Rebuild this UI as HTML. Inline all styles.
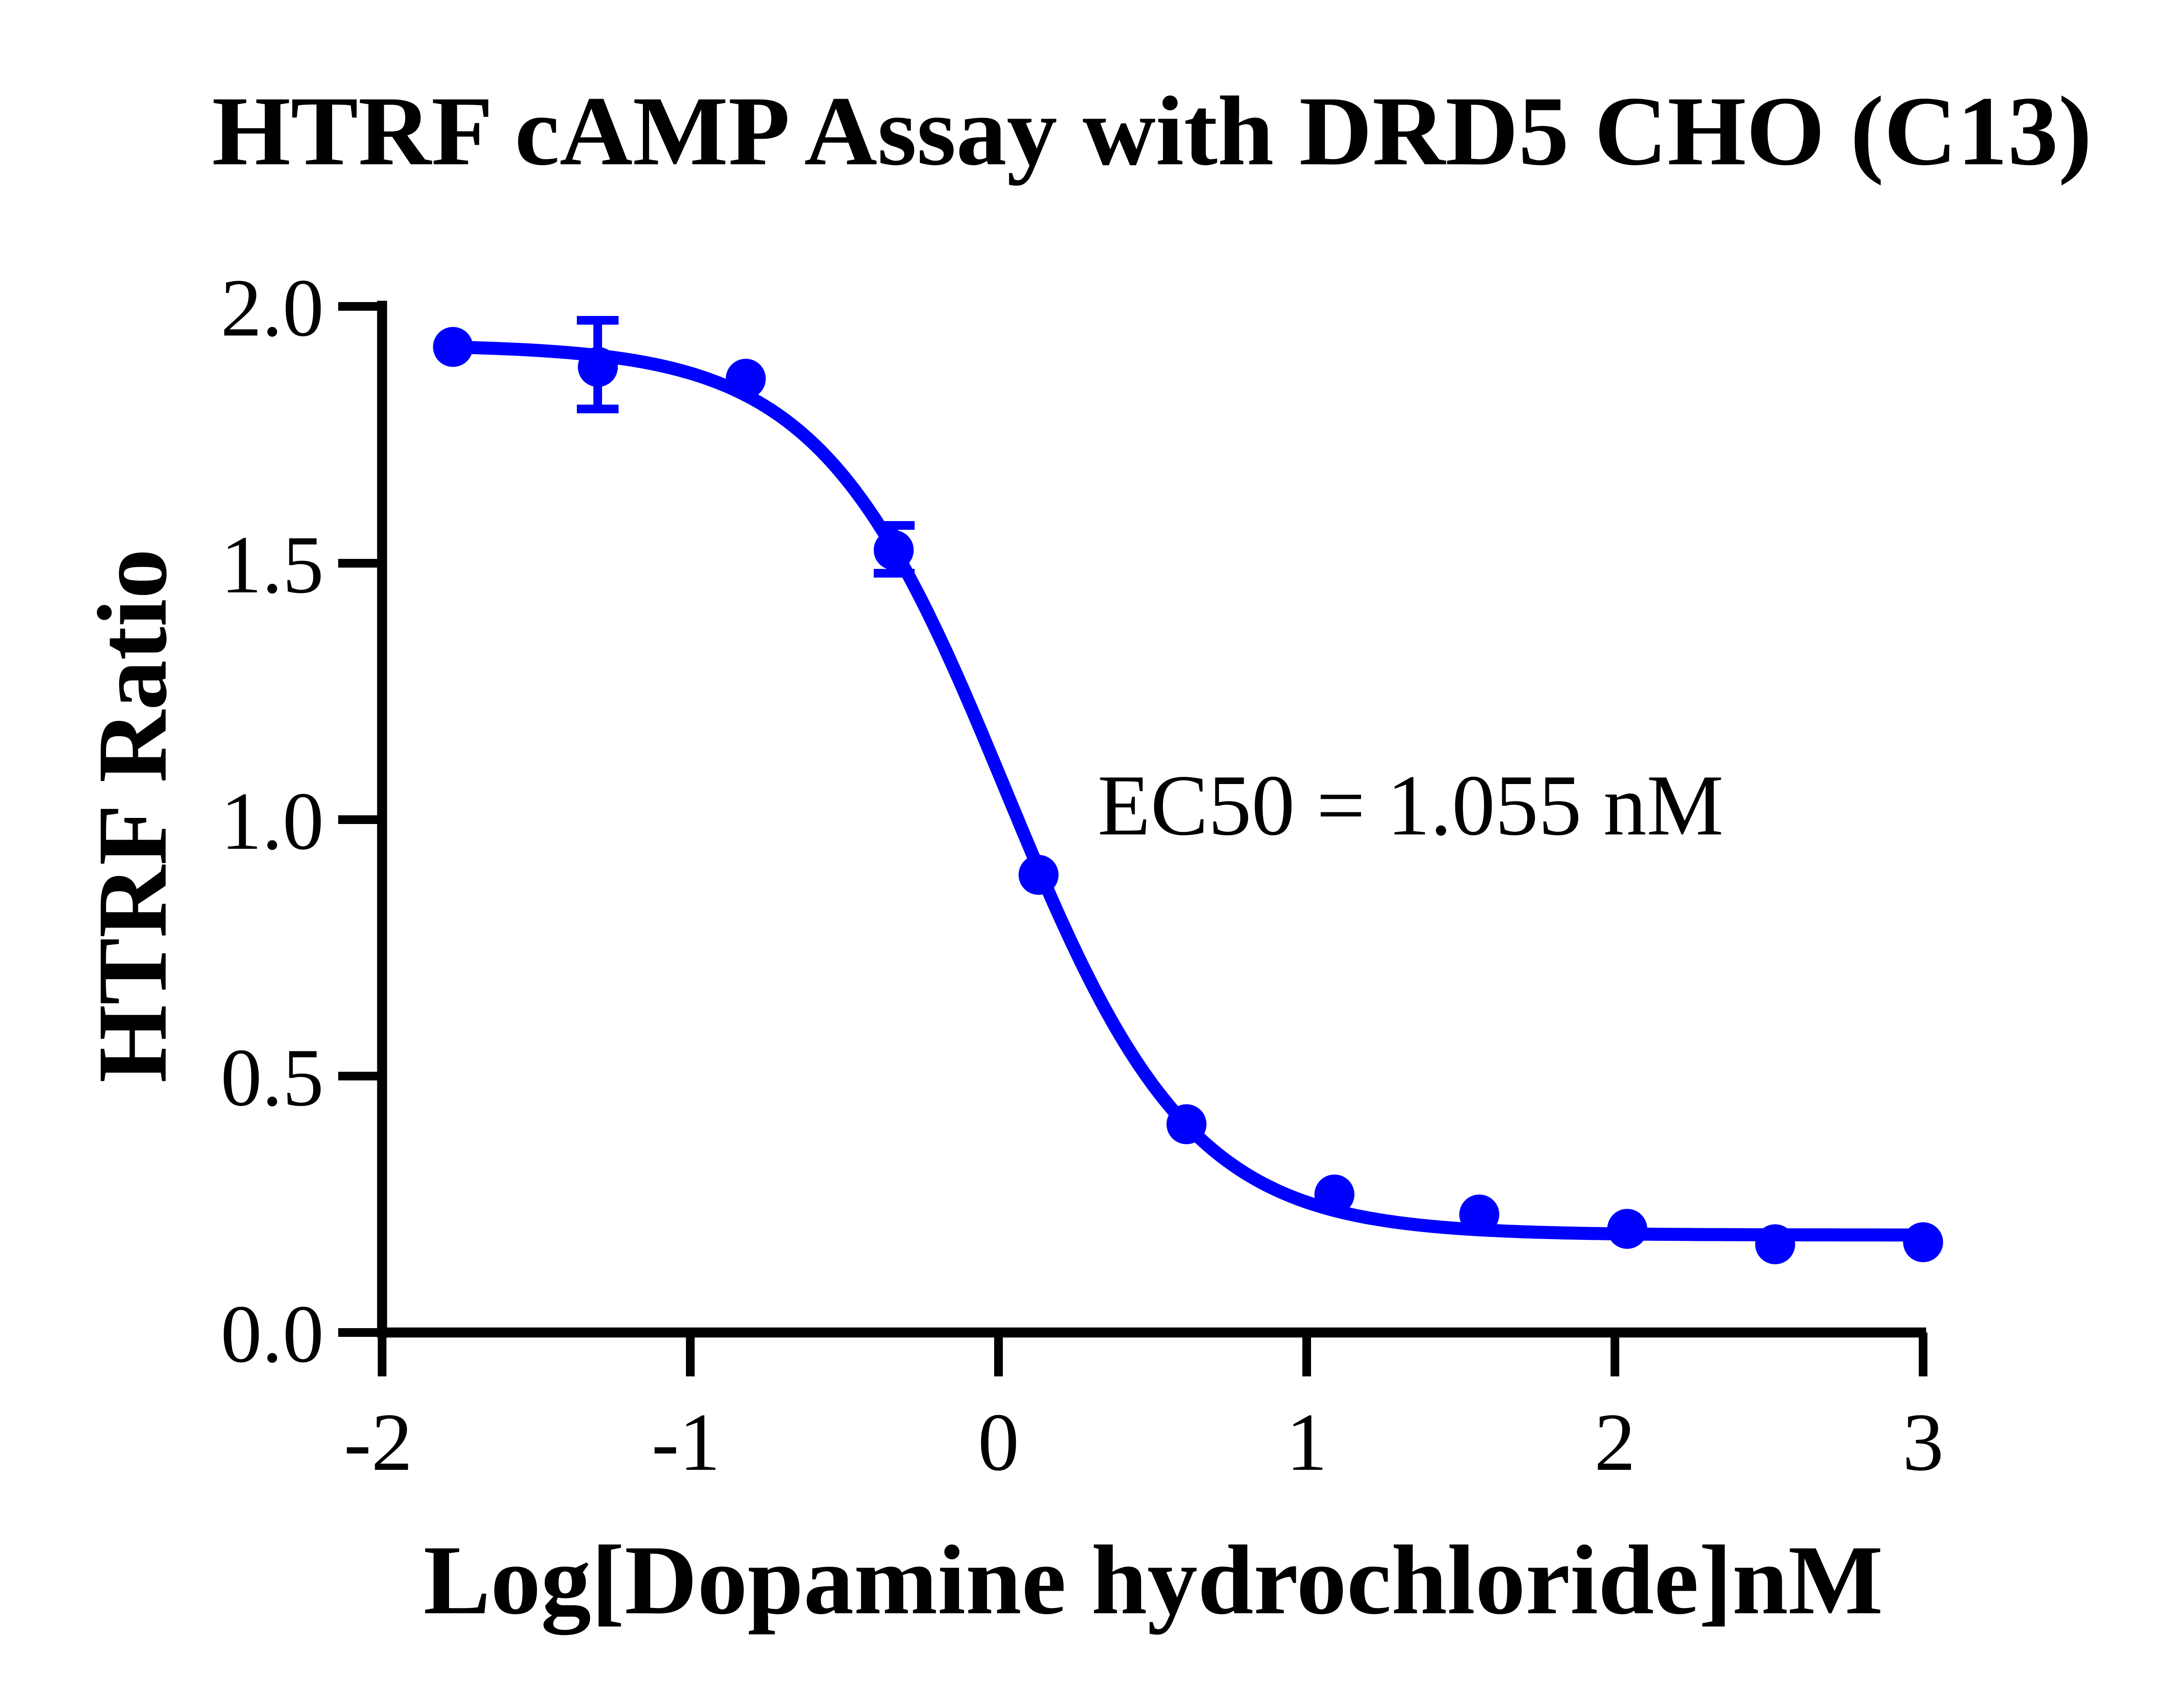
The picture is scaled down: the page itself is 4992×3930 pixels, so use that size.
<!DOCTYPE html>
<html><head><meta charset="utf-8"><style>html,body{margin:0;padding:0;background:#fff}svg{display:block}</style></head>
<body>
<svg id="s" width="4992" height="3930" viewBox="0 0 4992 3930" xmlns="http://www.w3.org/2000/svg" font-family="Liberation Serif, serif">
<rect width="4992" height="3930" fill="#fff"/>
<text x="2650" y="378" font-size="228" font-weight="bold" text-anchor="middle" textLength="4325" lengthAdjust="spacingAndGlyphs">HTRF cAMP Assay with DRD5 CHO (C13)</text>
<g stroke="#000" stroke-width="23" fill="none">
<line x1="879" y1="692" x2="879" y2="3078"/>
<line x1="868" y1="3066" x2="4431" y2="3066"/>
<g stroke-width="20">
<line x1="778" y1="705" x2="879" y2="705"/>
<line x1="778" y1="1296" x2="879" y2="1296"/>
<line x1="778" y1="1886" x2="879" y2="1886"/>
<line x1="778" y1="2476" x2="879" y2="2476"/>
<line x1="778" y1="3066" x2="879" y2="3066"/>
<line x1="879" y1="3066" x2="879" y2="3167"/>
<line x1="1588" y1="3066" x2="1588" y2="3167"/>
<line x1="2297" y1="3066" x2="2297" y2="3167"/>
<line x1="3006" y1="3066" x2="3006" y2="3167"/>
<line x1="3715" y1="3066" x2="3715" y2="3167"/>
<line x1="4424" y1="3066" x2="4424" y2="3167"/>
</g></g>
<g font-size="190" text-anchor="end">
<text x="745" y="772">2.0</text>
<text x="745" y="1363">1.5</text>
<text x="745" y="1953">1.0</text>
<text x="745" y="2543">0.5</text>
<text x="745" y="3133">0.0</text>
</g>
<g font-size="190" text-anchor="middle">
<text x="870" y="3382">-2</text>
<text x="1578" y="3382">-1</text>
<text x="2297" y="3382">0</text>
<text x="3006" y="3382">1</text>
<text x="3715" y="3382">2</text>
<text x="4424" y="3382">3</text>
</g>
<text x="2653" y="3712" font-size="228" font-weight="bold" text-anchor="middle" textLength="3358" lengthAdjust="spacingAndGlyphs">Log[Dopamine hydrochloride]nM</text>
<text transform="translate(381,1877) rotate(-90)" font-size="228" font-weight="bold" text-anchor="middle" textLength="1229" lengthAdjust="spacingAndGlyphs">HTRF Ratio</text>
<text x="2525" y="1920" font-size="200" textLength="1440" lengthAdjust="spacingAndGlyphs">EC50 = 1.055 nM</text>
<path id="curve" fill="none" stroke="#0000ff" stroke-width="30" d=""/>
<g stroke="#0000ff" stroke-width="20">
<line x1="1375" y1="737" x2="1375" y2="941"/><line x1="1327" y1="737" x2="1423" y2="737"/><line x1="1327" y1="941" x2="1423" y2="941"/>
<line x1="2056" y1="1209" x2="2056" y2="1319"/><line x1="2010" y1="1209" x2="2104" y2="1209"/><line x1="2010" y1="1319" x2="2104" y2="1319"/>
</g>
<g id="pts" fill="#0000ff"></g>
</svg>
<script>
var X=function(v){return 879+709*(v+2)},Y=function(v){return 3066-1180.5*v};
var d="";for(var i=0;i<=300;i++){var x=-1.77+4.77*i/300;var y=0.19+(1.925-0.19)/(1+Math.pow(10,(x-0.023)*1.45));d+=(i?"L":"M")+X(x).toFixed(1)+" "+Y(y).toFixed(1);}
document.getElementById("curve").setAttribute("d",d);
var xs=[-1.77,-1.30,-0.82,-0.34,0.13,0.61,1.09,1.56,2.04,2.52,3.0],ys=[1.921,1.882,1.859,1.525,0.892,0.406,0.269,0.230,0.202,0.172,0.176];
var g=document.getElementById("pts"),h="";for(var j=0;j<xs.length;j++){h+='<circle cx="'+X(xs[j])+'" cy="'+Y(ys[j])+'" r="46"/>';}
g.innerHTML=h;
</script>
</body></html>
